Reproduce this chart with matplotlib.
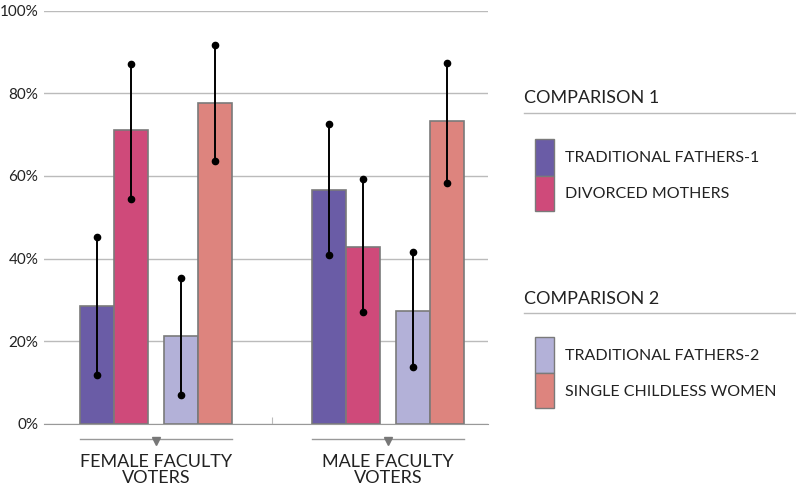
import matplotlib
matplotlib.use('Agg')
import matplotlib.pyplot as plt
from matplotlib.patches import Rectangle
from matplotlib.transforms import blended_transform_factory
import numpy as np

plt.rcParams['font.family'] = ['Lato', 'DejaVu Sans']

# data
groups = ['FEMALE FACULTY\nVOTERS', 'MALE FACULTY\nVOTERS']
series = ['TRADITIONAL FATHERS-1', 'DIVORCED MOTHERS',
          'TRADITIONAL FATHERS-2', 'SINGLE CHILDLESS WOMEN']
colors = ['#6a5ca6', '#cf4a7a', '#b3b1d8', '#dd847e']
values = {
    'TRADITIONAL FATHERS-1': [28.5, 56.5],
    'DIVORCED MOTHERS': [71.2, 42.7],
    'TRADITIONAL FATHERS-2': [21.2, 27.3],
    'SINGLE CHILDLESS WOMEN': [77.6, 73.2],
}
err_low = {
    'TRADITIONAL FATHERS-1': [11.8, 40.8],
    'DIVORCED MOTHERS': [54.3, 27.0],
    'TRADITIONAL FATHERS-2': [7.1, 13.9],
    'SINGLE CHILDLESS WOMEN': [63.6, 58.2],
}
err_high = {
    'TRADITIONAL FATHERS-1': [45.2, 72.6],
    'DIVORCED MOTHERS': [87.1, 59.2],
    'TRADITIONAL FATHERS-2': [35.4, 41.7],
    'SINGLE CHILDLESS WOMEN': [91.6, 87.4],
}
yticks = [0, 20, 40, 60, 80, 100]

fig = plt.figure(figsize=(7.96, 4.87), dpi=100)
ax = fig.add_axes([0.0553, 0.1294, 0.5574, 0.8489])

x = np.arange(len(groups))
offsets = [-0.254, -0.108, 0.108, 0.254]
width = 0.1466
for s, off, c in zip(series, offsets, colors):
    xs = x + off
    ax.bar(xs, values[s], width=width, color=c, edgecolor='#7a7a7a',
           linewidth=1.2, zorder=2)
    ax.vlines(xs, err_low[s], err_high[s], color='black', linewidth=1.4, zorder=3)
    ax.plot(xs, err_low[s], 'o', color='black', markersize=4.5, zorder=4)
    ax.plot(xs, err_high[s], 'o', color='black', markersize=4.5, zorder=4)

ax.set_xlim(-0.483, 1.43)
ax.set_ylim(0, 100)
ax.set_yticks(yticks)
ax.set_yticklabels([f'{t}%' for t in yticks], fontsize=11, color='#222222')
ax.grid(axis='y', color='#bbbbbb', linewidth=1, zorder=0)
ax.set_axisbelow(True)
for sp in ['top', 'right', 'left']:
    ax.spines[sp].set_visible(False)
ax.spines['bottom'].set_color('#999999')
ax.tick_params(axis='y', length=0, pad=4)
ax.set_xticks([0.5])
ax.set_xticklabels([''])
ax.tick_params(axis='x', length=5, color='#bbbbbb', direction='in')

# group brackets and labels
trans = blended_transform_factory(ax.transData, ax.transAxes)
for xi, g in zip(x, groups):
    ax.plot([xi - 0.328, xi + 0.328], [-0.037, -0.037], color='#999999',
            linewidth=1, transform=trans, clip_on=False)
    ax.plot([xi], [-0.041], marker='v', color='#777777', markersize=6,
            transform=trans, clip_on=False)
    ax.text(xi, -0.072, g, transform=trans, ha='center', va='top',
            fontsize=13, color='#222222', linespacing=1.05)

# legend blocks
W, H = 796, 487
def fx(px):
    return px / W
def fy(py):
    return 1 - py / H

legend_blocks = [
    ('COMPARISON 1', 98, 113.3, [(series[0], colors[0], 139.3, 176, 158.3),
                                 (series[1], colors[1], 176, 210.7, 194.5)]),
    ('COMPARISON 2', 299.3, 313.3, [(series[2], colors[2], 337.3, 372.7, 356),
                                    (series[3], colors[3], 372.7, 408.3, 391.5)]),
]
for title, ty, ly, items in legend_blocks:
    fig.text(fx(524), fy(ty), title, ha='left', va='center', fontsize=13,
             color='#222222')
    fig.add_artist(plt.Line2D([fx(524), 1.0], [fy(ly), fy(ly)],
                              color='#bbbbbb', linewidth=1))
    for label, c, y0, y1, tyy in items:
        fig.add_artist(Rectangle((fx(534.5), fy(y1)), fx(554.3) - fx(534.5),
                                 fy(y0) - fy(y1), facecolor=c,
                                 edgecolor='#7a7a7a', linewidth=1.0))
        fig.text(fx(565), fy(tyy), label, ha='left', va='center',
                 fontsize=11.5, color='#222222')

fig.savefig('out.png', dpi=100)
